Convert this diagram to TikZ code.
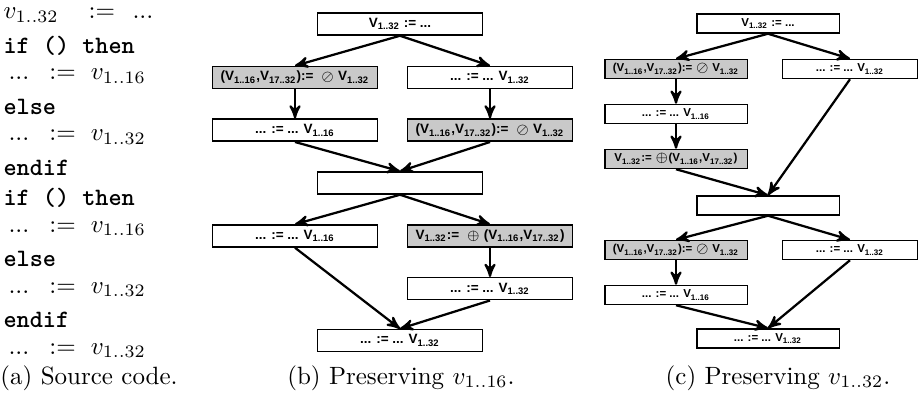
\documentclass[tikz,border=0pt]{standalone}
\usepackage{fontspec}
\usepackage{amsmath}
\usepackage{amssymb}
\newfontfamily\boxfont{Liberation Sans}
\usetikzlibrary{arrows}
\usetikzlibrary{positioning}

\begin{document}
\begin{tikzpicture}[x=0.4pt,y=-0.4pt,>=stealth',node distance=21.1pt,
    blk/.style={draw,line width=0.6pt,minimum width=66pt,minimum height=8.8pt,inner sep=0pt,
                font=\boxfont\bfseries\fontsize{5.4}{6.5}\selectfont},
    gblk/.style={blk,fill=black!21},
    sblk/.style={blk,minimum width=57pt,minimum height=7.6pt,
                font=\boxfont\bfseries\fontsize{4.6}{5.5}\selectfont},
    sgblk/.style={sblk,fill=black!21},
    flow/.style={->,line width=0.9pt},
    code/.style={anchor=west,inner sep=0pt}]

  \useasboundingbox (0,0) rectangle (920,397);

  % (a) source code
  \node[code] (s1) at (3,15) {$v_{1..32}$\hspace{12pt}:=\hspace{7pt}...};
  \node[code] (s2) at (3,45.5) {\ttfamily\bfseries if () then};
  \node[code] (s3) at (3,76) {\hspace{2pt}...\hspace{8pt}:=\hspace{6pt}$v_{1..16}$};
  \node[code] (s4) at (3,106.5) {\ttfamily\bfseries else};
  \node[code] (s5) at (3,137) {\hspace{2pt}...\hspace{8pt}:=\hspace{6pt}$v_{1..32}$};
  \node[code] (s6) at (3,167.5) {\ttfamily\bfseries endif};
  \node[code] (s7) at (3,198) {\ttfamily\bfseries if () then};
  \node[code] (s8) at (3,228.5) {\hspace{2pt}...\hspace{8pt}:=\hspace{6pt}$v_{1..16}$};
  \node[code] (s9) at (3,259) {\ttfamily\bfseries else};
  \node[code] (s10) at (3,289.5) {\hspace{2pt}...\hspace{8pt}:=\hspace{6pt}$v_{1..32}$};
  \node[code] (s11) at (3,320) {\ttfamily\bfseries endif};
  \node[code] (s12) at (3,350.5) {\hspace{2pt}...\hspace{8pt}:=\hspace{6pt}$v_{1..32}$};
  \node[code] (capa) at (0,378) {(a) Source code.};

  % (b) preserving v1..16
  \node[blk] (b0) at (400,24) {V\textsubscript{1..32} := ...};
  \node[gblk] (b1) at (295,77.5) {(V\textsubscript{1..16},V\textsubscript{17..32}):= \ $\oslash$ V\textsubscript{1..32}};
  \node[blk] (b2) at (490,77.5) {... := ... V\textsubscript{1..32}};
  \node[blk] (b3) [below of=b1] {... := ... V\textsubscript{1..16}};
  \node[gblk] (b4) [below of=b2] {(V\textsubscript{1..16},V\textsubscript{17..32}):= \ $\oslash$ V\textsubscript{1..32}};
  \node[blk] (b5) at (400,183) {};
  \node[blk] (b6) at (295,236) {... := ... V\textsubscript{1..16}};
  \node[gblk] (b7) at (490,236) {V\textsubscript{1..32}:= \ $\oplus$ (V\textsubscript{1..16},V\textsubscript{17..32})};
  \node[blk] (b8) [below of=b7] {... := ... V\textsubscript{1..32}};
  \node[blk] (b9) at (400,340.5) {... := ... V\textsubscript{1..32}};
  \node (capb) at (401,378) {(b) Preserving $v_{1..16}$.};

  \path[flow]
    (b0.south) edge (b1.north)
    (b0.south) edge (b2.north)
    (b1.south) edge (b3.north)
    (b2.south) edge (b4.north)
    (b3.south) edge (b5.north)
    (b4.south) edge (b5.north)
    (b5.south) edge (b6.north)
    (b5.south) edge (b7.north)
    (b7.south) edge (b8.north)
    (b6.south) edge (b9.north)
    (b8.south) edge (b9.north);

  % (c) preserving v1..32
  \begin{scope}[node distance=18pt]
  \node[sblk] (c0) at (768,23.5) {V\textsubscript{1..32} := ...};
  \node[sgblk] (c1) at (676,69) {(V\textsubscript{1..16},V\textsubscript{17..32}):= $\oslash$ V\textsubscript{1..32}};
  \node[sblk,minimum width=54pt] (c2) at (850,69) {... := ... V\textsubscript{1..32}};
  \node[sblk] (c3) [below of=c1] {... := ... V\textsubscript{1..16}};
  \node[sgblk] (c4) [below of=c3] {V\textsubscript{1..32}:= $\oplus$(V\textsubscript{1..16},V\textsubscript{17..32})};
  \node[sblk] (c5) at (768,205.5) {};
  \node[sgblk] (c6) at (676,250) {(V\textsubscript{1..16},V\textsubscript{17..32}):= $\oslash$ V\textsubscript{1..32}};
  \node[sblk,minimum width=54pt] (c7) at (850,250) {... := ... V\textsubscript{1..32}};
  \node[sblk] (c8) [below of=c6] {... := ... V\textsubscript{1..16}};
  \node[sblk] (c9) at (768,338.5) {... := ... V\textsubscript{1..32}};
  \end{scope}
  \node (capc) at (778,378) {(c) Preserving $v_{1..32}$.};

  \path[flow]
    (c0.south) edge (c1.north)
    (c0.south) edge (c2.north)
    (c1.south) edge (c3.north)
    (c3.south) edge (c4.north)
    (c4.south) edge (c5.north)
    (c2.south) edge (c5.north)
    (c5.south) edge (c6.north)
    (c5.south) edge (c7.north)
    (c6.south) edge (c8.north)
    (c8.south) edge (c9.north)
    (c7.south) edge (c9.north);
\end{tikzpicture}
\end{document}
